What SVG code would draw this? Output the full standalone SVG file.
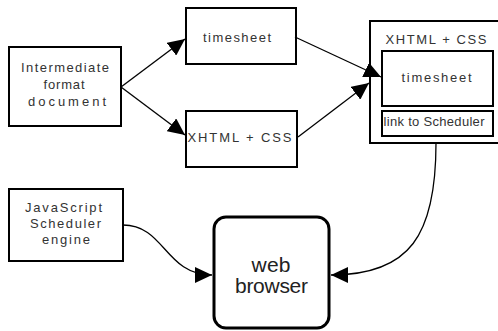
<svg xmlns="http://www.w3.org/2000/svg" width="498" height="331" viewBox="0 0 498 331">
<style>
.box{fill:#fff;stroke:#000;stroke-width:2}
.t{font-family:"Liberation Sans",Arial,sans-serif;font-size:13px;fill:#333;text-anchor:middle}
.big{font-size:21px;fill:#222}
.c{fill:none;stroke:#000;stroke-width:1.3}
</style>
<defs>
<marker id="ah" markerUnits="userSpaceOnUse" markerWidth="18" markerHeight="16" refX="17" refY="8" orient="auto">
<path d="M0,0 L17,8 L0,16 z" fill="#000"/>
</marker>
</defs>
<rect width="498" height="331" fill="#fff"/>
<g id="intermediate">
<rect class="box" x="9" y="47" width="112" height="79"/>
<text class="t" x="65" y="72" textLength="88" lengthAdjust="spacing">Intermediate</text>
<text class="t" x="64" y="89" textLength="41" lengthAdjust="spacing">format</text>
<text class="t" x="67" y="106" textLength="78" lengthAdjust="spacing">document</text>
</g>
<g id="timesheet">
<rect class="box" x="186" y="8" width="110" height="56"/>
<text class="t" x="237" y="42" textLength="68" lengthAdjust="spacing">timesheet</text>
</g>
<g id="xhtml">
<rect class="box" x="186" y="111" width="111" height="56"/>
<text class="t" x="239.5" y="142" textLength="104" lengthAdjust="spacing">XHTML + CSS</text>
</g>
<g id="combined">
<rect class="box" x="370" y="21" width="135" height="122"/>
<text class="t" x="436" y="44" textLength="101" lengthAdjust="spacing">XHTML + CSS</text>
<g id="inner-timesheet">
<rect class="box" x="382" y="51" width="111" height="55"/>
<text class="t" x="436.5" y="82" textLength="70" lengthAdjust="spacing">timesheet</text>
</g>
<g id="link">
<rect class="box" x="382" y="111" width="111" height="25"/>
<text class="t" x="434" y="126" textLength="101" lengthAdjust="spacing">link to Scheduler</text>
</g>
</g>
<g id="js">
<rect class="box" x="9" y="189" width="114" height="72"/>
<text class="t" x="63.5" y="212" textLength="77" lengthAdjust="spacing">JavaScript</text>
<text class="t" x="65.5" y="228" textLength="71" lengthAdjust="spacing">Scheduler</text>
<text class="t" x="66" y="244" textLength="48" lengthAdjust="spacing">engine</text>
</g>
<g id="browser">
<rect x="214" y="217" width="115" height="111" rx="12" fill="#fff" stroke="#000" stroke-width="3"/>
<text class="t big" x="271" y="272" textLength="39" lengthAdjust="spacing">web</text>
<text class="t big" x="271.5" y="293" textLength="73" lengthAdjust="spacing">browser</text>
</g>
<g id="connectors">
<path class="c" d="M121,87 L185,39" marker-end="url(#ah)"/>
<path class="c" d="M121,87 L185,135" marker-end="url(#ah)"/>
<path class="c" d="M295,37 L381,77" marker-end="url(#ah)"/>
<path class="c" d="M298,137 L369,83" marker-end="url(#ah)"/>
<path class="c" d="M123,225 C165,225 165,275 212,275" marker-end="url(#ah)"/>
<path class="c" d="M436,143 C436,235 410,275 331,275" marker-end="url(#ah)"/>
</g>
</svg>
